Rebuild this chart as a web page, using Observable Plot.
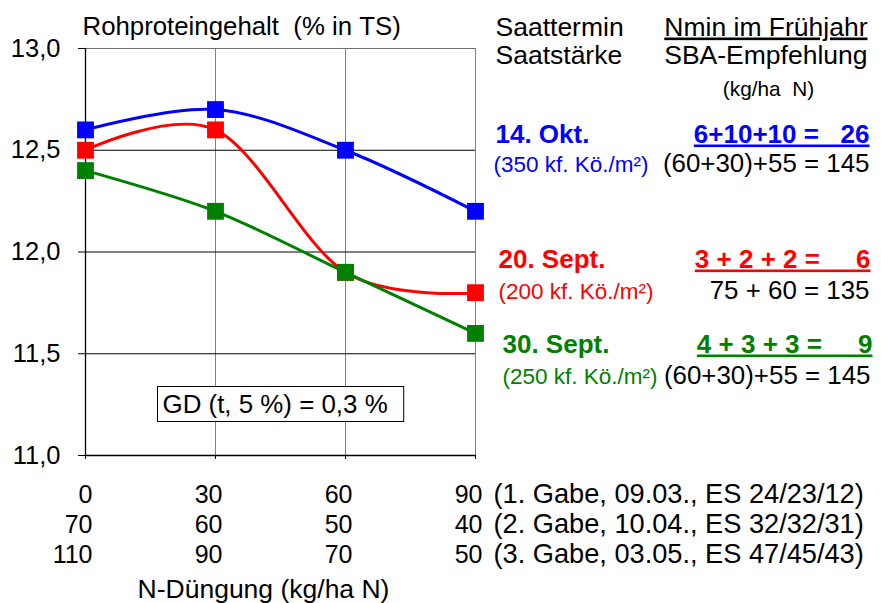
<!DOCTYPE html>
<html>
<head>
<meta charset="utf-8">
<script src="https://cdn.jsdelivr.net/npm/d3@7"></script>
<script src="https://cdn.jsdelivr.net/npm/@observablehq/plot@0.6"></script>
<style>
  html, body { margin: 0; padding: 0; background: #fff; }
  svg text { font-family: "Liberation Sans", Arial, sans-serif; }
</style>
</head>
<body>
<div id="chart"></div>
<script>
// ---- data ----
const nLevels = [0, 30, 60, 90];        // 1. Gabe (x axis)
const gabe2 = [70, 60, 50, 40];          // 2. Gabe
const gabe3 = [110, 90, 70, 50];         // 3. Gabe
const gabeNotes = ["(1. Gabe, 09.03., ES 24/23/12)", "(2. Gabe, 10.04., ES 32/32/31)", "(3. Gabe, 03.05., ES 47/45/43)"];
const okt14 = [12.6, 12.7, 12.5, 12.2];
const sep20 = [12.5, 12.6, 11.9, 11.8];
const sep30 = [12.4, 12.2, 11.9, 11.6];
const seriesNames = ["14. Okt.", "20. Sept.", "30. Sept."];
const seriesColors = ["#0000FF", "#FF0000", "#008000"];
const yTicks = [11, 11.5, 12, 12.5, 13];

const seriesValues = [okt14, sep20, sep30];
const points = seriesValues.flatMap((vals, s) => vals.map((v, i) => ({series: seriesNames[s], n: nLevels[i], v})));
const xRows = [nLevels, gabe2, gabe3].flatMap((row, r) => row.map((lab, i) => ({row: r, n: nLevels[i], lab})));

const W = 881, H = 603, ML = 85, MR = 406, MT = 48, MB = 148;
const FONT = "Liberation Sans, Arial, sans-serif";

function label(text, x, y, o = {}) {
  return Plot.text([text], {
    text: d => d,
    frameAnchor: "top-left",
    dx: x - ML, dy: y - MT,
    lineAnchor: "bottom",
    textAnchor: o.anchor || "start",
    fontSize: o.size || 26,
    fontWeight: o.weight || "normal",
    fill: o.color || "black"
  });
}
const nb = s => s.replace(/ /g, "\u00A0");

const plot = Plot.plot({
  width: W, height: H,
  marginLeft: ML, marginRight: MR, marginTop: MT, marginBottom: MB,
  style: {fontFamily: FONT, background: "white"},
  x: {domain: [0, 90]},
  y: {domain: [11, 13]},
  color: {domain: seriesNames, range: seriesColors},
  marks: [
    Plot.gridX([30, 60, 90], {stroke: "#808080", strokeOpacity: 1, strokeWidth: 1}),
    Plot.gridY([11.5, 12, 12.5], {stroke: "#000", strokeOpacity: 1, strokeWidth: 1}),
    Plot.ruleY([13], {stroke: "#6e6e6e", strokeWidth: 1}),
    Plot.ruleX([0], {stroke: "#000", strokeWidth: 1.3}),
    Plot.ruleY([11], {stroke: "#000", strokeWidth: 1.3}),
    Plot.axisY({ticks: yTicks, tickSize: 7, tickPadding: 18, fontSize: 25.5, label: null,
      tickFormat: d => d.toFixed(1).replace(".", ",")}),
    Plot.axisX({ticks: nLevels, tickSize: 4, tickFormat: () => "", label: null}),
    Plot.line(points, {x: "n", y: "v", z: "series", stroke: "series", strokeWidth: 3, curve: "cardinal", tension: 0}),
    Plot.dot(points, {x: "n", y: "v", fill: "series", symbol: "square", r: 9.5}),
    // multi-row x tick labels (1., 2., 3. Gabe)
    ...[0, 1, 2].map(r => Plot.text(xRows.filter(d => d.row === r), {
      x: "n", y: () => 11, text: "lab", lineAnchor: "bottom", textAnchor: "end",
      dx: 7, dy: 47 + 30 * r, fontSize: 25
    })),
    ...gabeNotes.map((t, r) => label(t, 493, 502 + 30 * r, {size: 27.2})),
    label("N-Düngung (kg/ha N)", 263, 597, {anchor: "middle", size: 26.5}),
    label(nb("Rohproteingehalt  (% in TS)"), 82, 34, {size: 25.8}),
    label("Saattermin", 495, 35, {size: 26.5}),
    label("Saatstärke", 495, 63, {size: 26.5}),
    label("Nmin im Frühjahr", 867, 35, {anchor: "end", size: 26.5}),
    label("SBA-Empfehlung", 867, 63, {anchor: "end", size: 26.5}),
    label(nb("(kg/ha  N)"), 768, 95, {anchor: "middle", size: 20.8}),
    label(seriesNames[0], 495, 142, {weight: "bold", size: 26, color: seriesColors[0]}),
    label(nb("6+10+10 =   26"), 869, 142, {anchor: "end", weight: "bold", size: 26, color: seriesColors[0]}),
    label("(350 kf. Kö./m²)", 493, 171, {size: 22.5, color: seriesColors[0]}),
    label("(60+30)+55 = 145", 869, 171, {anchor: "end", size: 25.9}),
    label(seriesNames[1], 498, 267, {weight: "bold", size: 26, color: seriesColors[1]}),
    label(nb("3 + 2 + 2 =     6"), 870, 267, {anchor: "end", weight: "bold", size: 26, color: seriesColors[1]}),
    label("(200 kf. Kö./m²)", 498, 298, {size: 22.5, color: seriesColors[1]}),
    label("75 + 60 = 135", 869, 298, {anchor: "end", size: 25.9}),
    label(seriesNames[2], 502, 352, {weight: "bold", size: 26, color: seriesColors[2]}),
    label(nb("4 + 3 + 3 =     9"), 872, 352, {anchor: "end", weight: "bold", size: 26, color: seriesColors[2]}),
    label("(250 kf. Kö./m²)", 502, 383, {size: 22.5, color: seriesColors[2]}),
    label("(60+30)+55 = 145", 870, 383, {anchor: "end", size: 25.9}),
    label("GD (t, 5 %) = 0,3 %", 162, 412, {size: 25.9})
  ]
});

document.getElementById("chart").appendChild(plot);

// underline and box post-processing
const svg = d3.select(plot);
const underlined = ["Nmin im Frühjahr", nb("6+10+10 =   26"), nb("3 + 2 + 2 =     6"), nb("4 + 3 + 3 =     9")];
svg.selectAll("text").filter(function() { return underlined.includes(this.textContent); })
  .style("text-decoration", "underline");
svg.selectAll("text").filter(function() { return this.textContent === "GD (t, 5 %) = 0,3 %"; })
  .each(function() {
    const b = this.getBBox();
    const padL = 5, padR = 16, padY = 3;
    d3.select(this.parentNode).insert("rect", () => this)
      .attr("transform", this.getAttribute("transform"))
      .attr("x", b.x - padL).attr("y", b.y - padY)
      .attr("width", b.width + padL + padR).attr("height", b.height + 2 * padY + 1)
      .attr("fill", "white").attr("stroke", "black").attr("stroke-width", 1);
  });
</script>
</body>
</html>
